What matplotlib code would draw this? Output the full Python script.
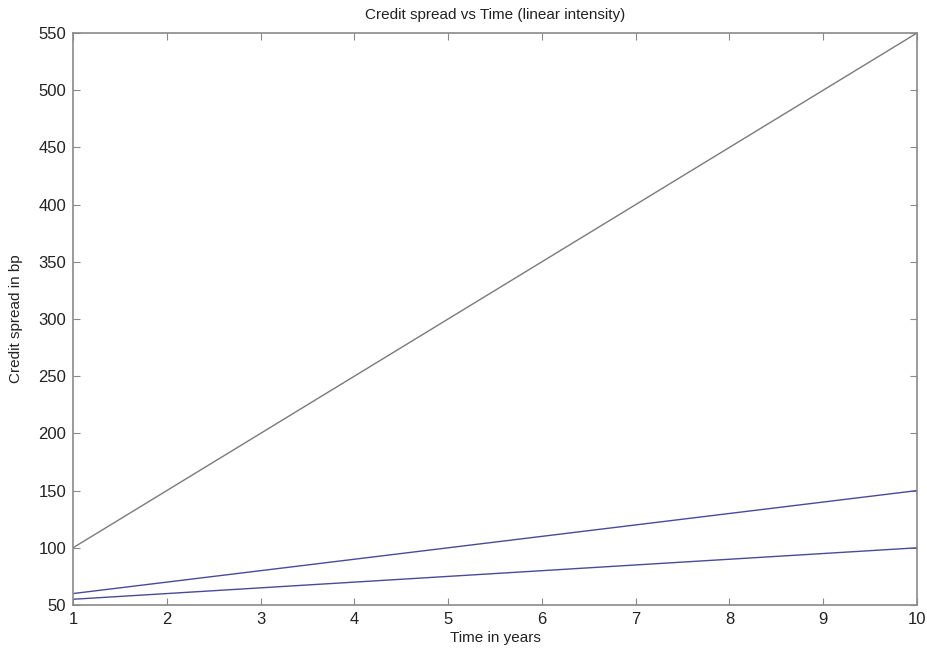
import numpy as np
import matplotlib.pyplot as plt

plt.rcParams['font.family'] = ['Liberation Sans', 'DejaVu Sans']

# Time grid and the three spread curves (bp)
years = [1, 2, 3, 4, 5, 6, 7, 8, 9, 10]
spread_high = [100, 150, 200, 250, 300, 350, 400, 450, 500, 550]
spread_mid = [60, 70, 80, 90, 100, 110, 120, 130, 140, 150]
spread_low = [55, 60, 65, 70, 75, 80, 85, 90, 95, 100]

fig = plt.figure(figsize=(9.28, 6.54), dpi=100)
ax = fig.add_axes([73/928, 1 - 605/654, (917 - 73)/928, (605 - 33)/654])

ax.plot(years, spread_high, color='#7a7a7a', lw=1.0)
ax.plot(years, spread_mid, color='#4a4a9a', lw=1.0)
ax.plot(years, spread_low, color='#4a4a9a', lw=1.0)

ax.set_xlim(1, 10)
ax.set_ylim(50, 550)
ax.set_xticks(range(1, 11))
ax.set_yticks(range(50, 551, 50))

for sp in ax.spines.values():
    sp.set_color('#8a8a8a')
    sp.set_linewidth(1.2)
ax.tick_params(direction='in', length=5, color='#8a8a8a', labelsize=12,
               top=True, right=True, labelcolor='#222222')
ax.tick_params(axis='y', pad=5)
ax.tick_params(axis='x', pad=5)

ax.set_title('Credit spread vs Time (linear intensity)', fontsize=11, color='#222222', pad=10)
ax.set_xlabel('Time in years', fontsize=11, color='#222222', labelpad=3)
ax.set_ylabel('Credit spread in bp', fontsize=11, color='#222222', labelpad=11)

fig.savefig('out.png', dpi=100)
